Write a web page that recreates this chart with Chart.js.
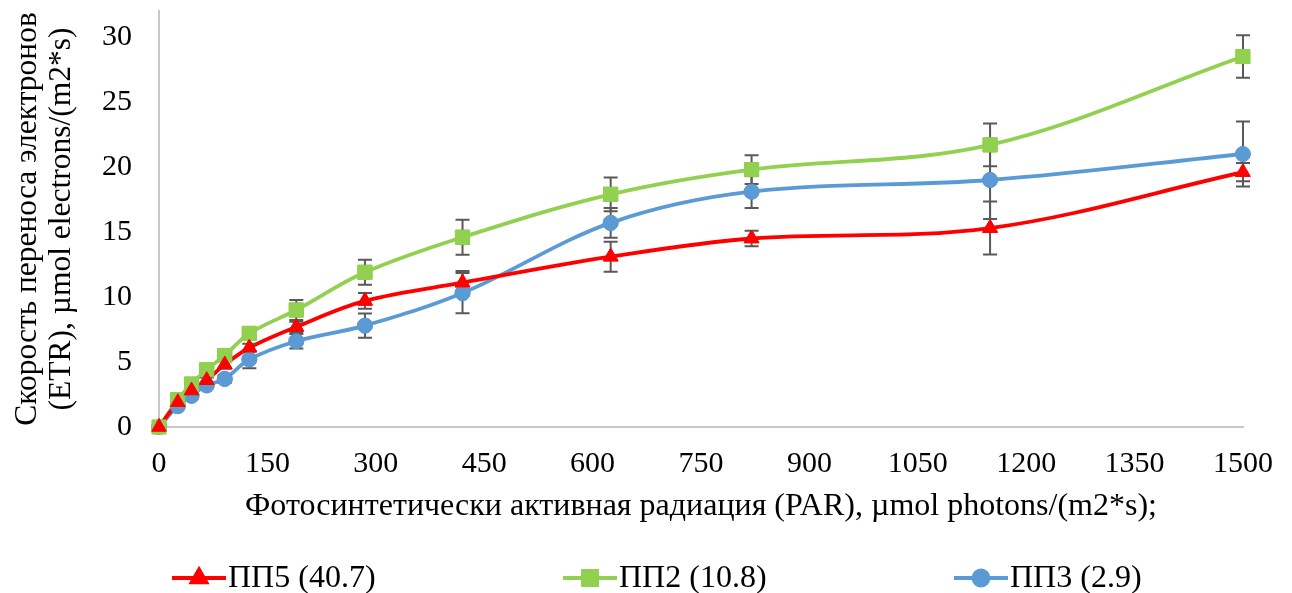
<!DOCTYPE html>
<html>
<head>
<meta charset="utf-8">
<script src="https://cdn.jsdelivr.net/npm/chart.js@4.4.1/dist/chart.umd.min.js"></script>
<style>
  html, body { margin: 0; padding: 0; background: #fff; }
</style>
</head>
<body>
<canvas id="etr" width="1292" height="593"></canvas>
<script>
// PAR levels (µmol photons/(m2*s))
const par = [0, 26, 45, 66, 91, 125, 190, 285, 420, 625, 820, 1150, 1500];

// ETR means and error (±) per plot
const pp5 = [0, 1.9, 2.8, 3.6, 4.8, 6.1, 7.7, 9.7, 11.1, 13.1, 14.5, 15.3, 19.6];
const pp5Err = [0, 0.1, 0.2, 0.2, 0.3, 0.3, 0.4, 0.6, 0.9, 1.15, 0.6, 2.04, 0.7];

const pp2 = [0, 2.1, 3.3, 4.4, 5.5, 7.2, 9.0, 11.9, 14.6, 17.9, 19.8, 21.7, 28.5];
const pp2Err = [0, 0.1, 0.2, 0.2, 0.3, 0.3, 0.77, 0.96, 1.35, 1.3, 1.1, 1.65, 1.63];

const pp3 = [0, 1.6, 2.4, 3.2, 3.7, 5.2, 6.6, 7.8, 10.3, 15.7, 18.1, 19.0, 21.0];
const pp3Err = [0, 0.1, 0.2, 0.2, 0.3, 0.69, 0.56, 0.93, 1.55, 1.15, 1.25, 3.0, 2.5];

const yTicks = [0, 5, 10, 15, 20, 25, 30];
const seriesLabels = ['ПП5 (40.7)', 'ПП2 (10.8)', 'ПП3 (2.9)'];
const yTitle = ['Скорость переноса электронов', '(ETR), µmol electrons/(m2*s)'];
const xTitle = 'Фотосинтетически активная радиация (PAR), µmol photons/(m2*s);';

const serif = '"Liberation Serif", "Times New Roman", serif';

function toPoints(values) {
    return values.map((v, i) => ({ x: par[i], y: v }));
}

function makeDataset(label, values, errors, color, style, radius) {
    return {
        label: label,
        data: toPoints(values),
        errors: errors,
        borderColor: color,
        backgroundColor: color,
        pointBackgroundColor: color,
        pointBorderColor: color,
        pointBorderWidth: 1,
        borderWidth: 3.8,
        pointStyle: style,
        pointRadius: radius,
        tension: 0.35,
        fill: false
    };
}

// vertical error bars, then points redrawn on top of them
const errorBars = {
    id: 'errorBars',
    afterDatasetsDraw(chart) {
        const ctx = chart.ctx;
        const xs = chart.scales.x, ys = chart.scales.y;
        ctx.save();
        ctx.strokeStyle = '#595959';
        ctx.lineWidth = 2;
        chart.data.datasets.forEach(ds => {
            ds.errors.forEach((e, j) => {
                if (!e) return;
                const px = xs.getPixelForValue(ds.data[j].x);
                const top = ys.getPixelForValue(ds.data[j].y + e);
                const bot = ys.getPixelForValue(ds.data[j].y - e);
                ctx.beginPath();
                ctx.moveTo(px, top); ctx.lineTo(px, bot);
                ctx.moveTo(px - 7, top); ctx.lineTo(px + 7, top);
                ctx.moveTo(px - 7, bot); ctx.lineTo(px + 7, bot);
                ctx.stroke();
            });
        });
        ctx.restore();
        for (let i = chart.data.datasets.length - 1; i >= 0; i--) {
            chart.getDatasetMeta(i).data.forEach(p => p.draw(ctx, chart.chartArea));
        }
    }
};

// one-row legend: line + marker + label
const legendRow = {
    id: 'legendRow',
    afterDraw(chart) {
        const ctx = chart.ctx;
        ctx.save();
        ctx.font = '32px ' + serif;
        ctx.textBaseline = 'middle';
        ctx.textAlign = 'left';
        chart.data.datasets.forEach((ds, i) => {
            const x0 = 172 + i * 391, y0 = 578;
            ctx.strokeStyle = ds.borderColor;
            ctx.lineWidth = 3.8;
            ctx.beginPath();
            ctx.moveTo(x0, y0); ctx.lineTo(x0 + 54, y0);
            ctx.stroke();
            ctx.fillStyle = ds.pointBackgroundColor;
            Chart.helpers.drawPoint(ctx, { pointStyle: ds.pointStyle, radius: ds.pointRadius, borderWidth: 1 }, x0 + 27, y0);
            ctx.fillStyle = '#000';
            ctx.fillText(ds.label, x0 + 56, y0 + 1);
        });
        ctx.restore();
    }
};

new Chart(document.getElementById('etr'), {
    type: 'line',
    data: {
        datasets: [
            makeDataset(seriesLabels[0], pp5, pp5Err, '#FF0000', 'triangle', 8.5),
            makeDataset(seriesLabels[1], pp2, pp2Err, '#92D050', 'rect', 10),
            makeDataset(seriesLabels[2], pp3, pp3Err, '#5B9BD5', 'circle', 7.5)
        ]
    },
    options: {
        responsive: false,
        animation: false,
        layout: { padding: { left: 0, right: 49, top: 9, bottom: 62 } },
        plugins: {
            legend: { display: false },
            tooltip: { enabled: false }
        },
        scales: {
            x: {
                type: 'linear',
                min: 0,
                max: 1500,
                afterFit: s => { s.height = 104; },
                grid: { display: false, drawTicks: false },
                border: { display: true, color: '#c8c8c8', width: 2 },
                ticks: {
                    stepSize: 150,
                    padding: 19,
                    color: '#000',
                    font: { family: serif, size: 30 },
                    maxRotation: 0,
                    callback: v => String(v)
                },
                title: {
                    display: true,
                    text: xTitle,
                    color: '#000',
                    font: { family: serif, size: 32 },
                    padding: { top: 0, bottom: 5 }
                }
            },
            y: {
                min: 0,
                max: 32,
                afterBuildTicks: s => { s.ticks = yTicks.map(v => ({ value: v })); },
                afterFit: s => {
                    s.width = 159;
                    s.paddingTop = 0;
                    s.paddingBottom = 0;
                },
                grid: { display: false, drawTicks: false },
                border: { display: true, color: '#c8c8c8', width: 2 },
                ticks: {
                    padding: 27,
                    color: '#000',
                    font: { family: serif, size: 30 }
                },
                title: {
                    display: true,
                    text: yTitle,
                    color: '#000',
                    font: { family: serif, size: 31.5, lineHeight: 1.08 },
                    padding: { top: 11, bottom: 0 }
                }
            }
        }
    },
    plugins: [errorBars, legendRow]
});
</script>
</body>
</html>
